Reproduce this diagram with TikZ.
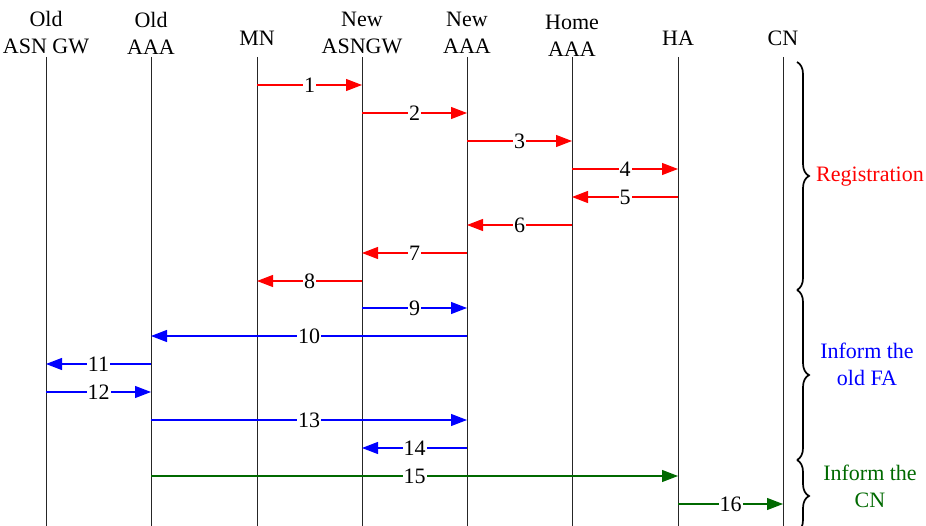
\documentclass[tikz,border=0pt]{standalone}
\usepackage{fontspec}
\setmainfont{Liberation Serif}
\usetikzlibrary{arrows.meta,decorations.pathreplacing}
\definecolor{dgreen}{RGB}{0,105,0}
\begin{document}
\begin{tikzpicture}[x=1pt,y=-1pt,
  every node/.style={font=\fontsize{22}{27}\selectfont},
  hdr/.style={align=center,inner sep=0pt},
  life/.style={draw=black!85,line width=1pt},
  msg/.style={line width=1.1pt,-{Triangle[length=16pt,width=12pt]}},
  lbl/.style={midway,fill=white,inner sep=1pt,text=black},
  brc/.style={decorate,decoration={brace,amplitude=12pt},line width=1.7pt},
]
\useasboundingbox (0,0) rectangle (926,526);
% headers
\node[hdr] (h1) at (46,33) {Old\\ASN GW};
\node[hdr] (h2) at (151,33) {Old\\AAA};
\node[hdr] (h3) at (257,38) {MN};
\node[hdr] (h4) at (362,33) {New\\ASNGW};
\node[hdr] (h5) at (467,33) {New\\AAA};
\node[hdr] (h6) at (572,36) {Home\\AAA};
\node[hdr] (h7) at (678,38) {HA};
\node[hdr] (h8) at (783,38) {CN};
% lifelines
\foreach \i/\x in {1/46,2/151,3/257,4/362,5/467,6/572,7/678,8/783}{
  \coordinate (t\i) at (\x,57);
  \coordinate (b\i) at (\x,526);
  \draw[life] (t\i) -- (b\i);
}
% messages
\draw[msg,red] (t3 |- 0,85) -- node[lbl]{1} (t4 |- 0,85);
\draw[msg,red] (t4 |- 0,113) -- node[lbl]{2} (t5 |- 0,113);
\draw[msg,red] (t5 |- 0,141) -- node[lbl]{3} (t6 |- 0,141);
\draw[msg,red] (t6 |- 0,169) -- node[lbl]{4} (t7 |- 0,169);
\draw[msg,red] (t7 |- 0,197) -- node[lbl]{5} (t6 |- 0,197);
\draw[msg,red] (t6 |- 0,225) -- node[lbl]{6} (t5 |- 0,225);
\draw[msg,red] (t5 |- 0,253) -- node[lbl]{7} (t4 |- 0,253);
\draw[msg,red] (t4 |- 0,281) -- node[lbl]{8} (t3 |- 0,281);
\draw[msg,blue] (t4 |- 0,308) -- node[lbl]{9} (t5 |- 0,308);
\draw[msg,blue] (t5 |- 0,336) -- node[lbl]{10} (t2 |- 0,336);
\draw[msg,blue] (t2 |- 0,364) -- node[lbl]{11} (t1 |- 0,364);
\draw[msg,blue] (t1 |- 0,392) -- node[lbl]{12} (t2 |- 0,392);
\draw[msg,blue] (t2 |- 0,420) -- node[lbl]{13} (t5 |- 0,420);
\draw[msg,blue] (t5 |- 0,448) -- node[lbl]{14} (t4 |- 0,448);
\draw[msg,dgreen] (t2 |- 0,476) -- node[lbl]{15} (t7 |- 0,476);
\draw[msg,dgreen] (t7 |- 0,504) -- node[lbl]{16} (t8 |- 0,504);
% braces
\coordinate (g0) at (797,62);
\coordinate (g1) at (797,290);
\coordinate (g2) at (797,460);
\coordinate (g3) at (797,532);
\draw[brc] (g0) -- (g1);
\draw[brc] (g1) -- (g2);
\draw[brc] (g2) -- (g3);
\node[red] (r1) at (870,177) {Registration};
\node[blue,align=center] (r2) at (867,364) {Inform the\\old FA};
\node[dgreen,align=center] (r3) at (870,486) {Inform the\\CN};
\end{tikzpicture}
\end{document}
